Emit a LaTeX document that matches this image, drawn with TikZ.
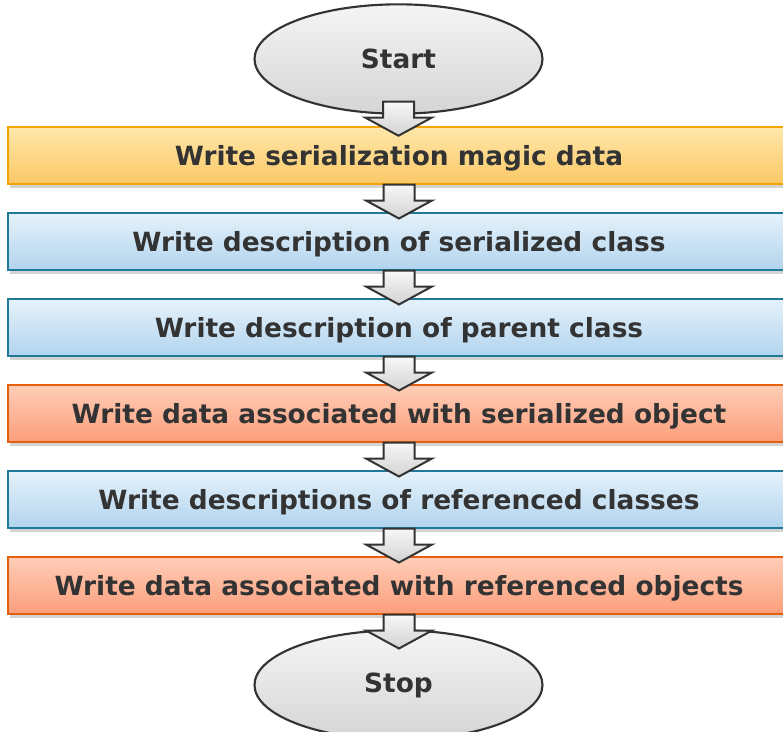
\documentclass[tikz,border=0pt]{standalone}
\usepackage{fontspec}
\setmainfont{DejaVu Sans}
\usepackage{tikz}
\usetikzlibrary{shapes.geometric}
\usetikzlibrary{shadows}

\definecolor{inktext}{HTML}{333333}
\definecolor{magictop}{HTML}{FFE7AA}
\definecolor{magicbot}{HTML}{FBC866}
\definecolor{magicline}{HTML}{F4A300}
\definecolor{classtop}{HTML}{E6F2FB}
\definecolor{classbot}{HTML}{B2D4EE}
\definecolor{classline}{HTML}{1F7A99}
\definecolor{objtop}{HTML}{FFCEB8}
\definecolor{objbot}{HTML}{FB9E7B}
\definecolor{objline}{HTML}{E5600E}

\tikzset{
    flowbox/.style={shape=rectangle, line width=1.5pt, minimum width=586.5pt, minimum height=42.75pt,
        text=inktext, text height=18pt, text depth=2pt,
        drop shadow={shadow xshift=1.5pt, shadow yshift=-3pt, opacity=0.35}},
    magicbox/.style={flowbox, draw=magicline, top color=magictop, bottom color=magicbot},
    classbox/.style={flowbox, draw=classline, top color=classtop, bottom color=classbot},
    objbox/.style={flowbox, draw=objline, top color=objtop, bottom color=objbot},
    termnode/.style={shape=ellipse, draw=inktext, line width=1.6pt, minimum width=216pt,
        minimum height=82pt, text=inktext, top color=gray!8, bottom color=gray!33},
    blockarr/.style={draw=inktext, line width=1.5pt, line join=miter, top color=gray!6, bottom color=gray!35}
}

\begin{document}
\begin{tikzpicture}[x=0.75pt, y=-0.75pt, font=\bfseries\fontsize{19.8}{23}\selectfont]
    		\useasboundingbox (0,0) rectangle (783,732);
    		\clip (0,0) rectangle (783,732);
    		% Terminals and steps:
    		\node[termnode] (start) at (398.5, 59){Start};
    		\node[magicbox] (magic) at (399, 155){Write serialization magic data};
    		\node[classbox] (cls) at (399, 241){Write description of serialized class};
    		\node[classbox] (parent) at (399, 327){Write description of parent class};
    		\node[objbox] (objdata) at (399, 413){Write data associated with serialized object};
    		\node[classbox] (refcls) at (399, 499){Write descriptions of referenced classes};
    		\node[objbox] (refobj) at (399, 585){Write data associated with referenced objects};
    		\node[termnode] (stop) at (398.5, 685){Stop};
    		% Block arrows:
    		\draw[blockarr] (start.south) ++(-15.5, -13) -- ++(0, 16) -- ++(-17.5, 0) -- ++(33, 18) -- ++(33, -18) -- ++(-17.5, 0) -- ++(0, -16) -- cycle;
    		\foreach \from in {magic, cls, parent, objdata, refcls, refobj}{
    			\draw[blockarr] (\from.south) ++(-15.5, 0) -- ++(0, 16) -- ++(-17.5, 0) -- ++(33, 18) -- ++(33, -18) -- ++(-17.5, 0) -- ++(0, -16) -- cycle;
    		}
    	\end{tikzpicture}
\end{document}
